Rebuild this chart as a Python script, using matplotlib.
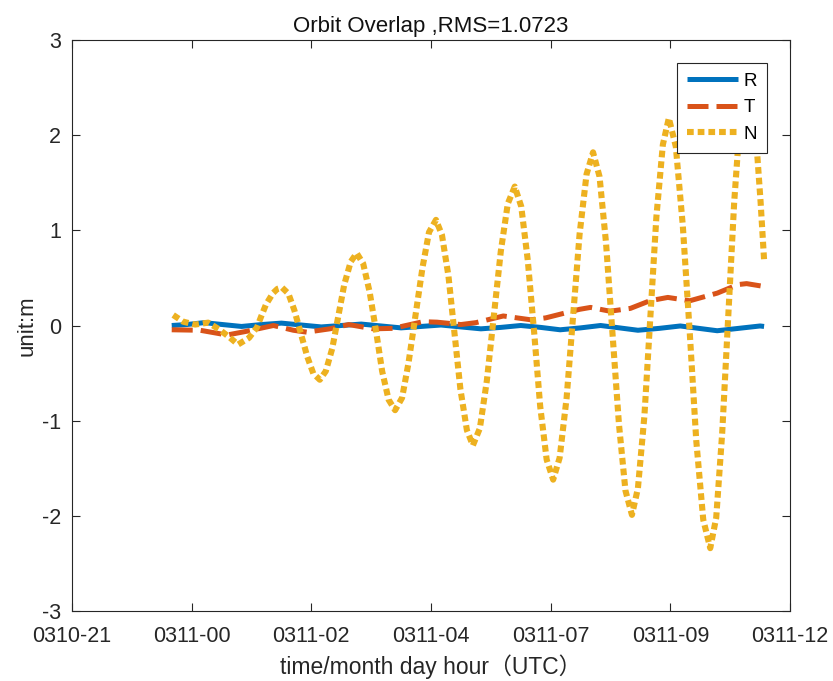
import matplotlib
matplotlib.use("Agg")
import matplotlib.pyplot as plt

plt.rcParams['font.family'] = ['Liberation Sans', 'Noto Sans CJK SC', 'DejaVu Sans']
plt.rcParams['axes.unicode_minus'] = False

# Hours relative to 0311-00 UTC
t_R = [-0.40, -0.10, 0.25, 0.62, 1.00, 1.40, 1.80, 2.20, 2.60, 3.00, 3.40, 3.80,
       4.20, 4.60, 5.00, 5.40, 5.80, 6.20, 6.60, 7.00, 7.39, 7.80, 8.20, 8.58,
       8.95, 9.38, 9.80, 10.17, 10.54, 10.97, 11.40, 11.48]
v_R = [0.00, 0.01, 0.03, 0.01, -0.01, 0.01, 0.025, 0.005, -0.015, 0.00, 0.015, -0.005,
       -0.025, -0.01, 0.005, -0.015, -0.035, -0.02, 0.00, -0.02, -0.045, -0.025, 0.00, -0.025,
       -0.05, -0.03, -0.005, -0.03, -0.055, -0.03, -0.005, -0.01]

t_T = [-0.40, 0.17, 0.71, 1.11, 1.64, 2.04, 2.31, 2.77, 3.15, 3.64, 4.04, 4.64,
       4.92, 5.40, 5.70, 6.25, 6.80, 7.10, 7.78, 8.00, 8.39, 8.80, 9.19, 9.55,
       9.99, 10.54, 10.96, 11.13, 11.48]
v_T = [-0.045, -0.05, -0.10, -0.06, 0.00, -0.05, -0.07, -0.035, 0.01, -0.035, -0.03, 0.04,
       0.035, 0.01, 0.03, 0.10, 0.06, 0.08, 0.17, 0.19, 0.15, 0.18, 0.26, 0.295,
       0.26, 0.34, 0.43, 0.44, 0.41]

t_N = [-0.37, -0.17, 0.07, 0.33, 0.55, 0.75, 0.93, 1.15, 1.31, 1.39, 1.49, 1.63, 1.72, 1.81,
       1.94, 2.06, 2.19, 2.32, 2.44,
       2.57, 2.69, 2.82, 2.94, 3.06, 3.19,
       3.31, 3.44, 3.57, 3.70, 3.82, 3.95,
       4.08, 4.22, 4.35, 4.49, 4.63, 4.76,
       4.90, 5.02, 5.15, 5.27, 5.39, 5.52,
       5.64, 5.78, 5.92, 6.06, 6.20, 6.34,
       6.48, 6.61, 6.74, 6.87, 6.99, 7.12,
       7.25, 7.38, 7.52, 7.65, 7.78, 7.92,
       8.05, 8.18, 8.31, 8.44, 8.57, 8.70,
       8.83, 8.95, 9.08, 9.20, 9.32, 9.45,
       9.57, 9.71, 9.85, 9.99, 10.12, 10.26,
       10.40, 10.52, 10.64, 10.76, 10.88, 11.00,
       11.12, 11.24, 11.34, 11.41, 11.48]
v_N = [0.11, 0.04, 0.01, 0.03, -0.04, -0.12, -0.20, -0.13, -0.02, 0.09, 0.22, 0.34, 0.385, 0.40,
       0.335, 0.16, -0.085, -0.33, -0.505,
       -0.57, -0.48, -0.24, 0.095, 0.43, 0.67,
       0.76, 0.65, 0.35, -0.065, -0.48, -0.78,
       -0.89, -0.76, -0.39, 0.11, 0.61, 0.98,
       1.11, 0.95, 0.52, -0.075, -0.67, -1.10,
       -1.26, -1.08, -0.58, 0.10, 0.78, 1.28,
       1.46, 1.25, 0.69, -0.08, -0.85, -1.41,
       -1.62, -1.39, -0.76, 0.10, 0.96, 1.59,
       1.82, 1.565, 0.87, -0.085, -1.04, -1.735,
       -1.99, -1.71, -0.95, 0.095, 1.14, 1.90,
       2.18, 1.88, 1.05, -0.08, -1.21, -2.04,
       -2.34, -2.02, -1.13, 0.08, 1.29, 2.18,
       2.50, 2.25, 1.82, 1.30, 0.69]

x_ticks = [-2.4, 0.0, 2.4, 4.8, 7.2, 9.6, 12.0]
x_labels = ['0310-21', '0311-00', '0311-02', '0311-04', '0311-07', '0311-09', '0311-12']
y_ticks = [-3, -2, -1, 0, 1, 2, 3]

fig = plt.figure(figsize=(8.33, 6.81), dpi=100)
ax = fig.add_axes([72 / 833, 70 / 681, 718 / 833, 571 / 681])

ax.plot(t_R, v_R, color='#0072BD', lw=3.6, solid_capstyle='butt', label='R')
ax.plot(t_T, v_T, color='#D95319', lw=3.6, dashes=(4.2, 1.6), dash_capstyle='butt', label='T')
ax.plot(t_N, v_N, color='#EDB120', lw=4.4, dashes=(1.1, 0.65), dash_capstyle='butt', label='N')

ax.set_xlim(-2.4, 12.0)
ax.set_ylim(-3, 3)
ax.set_xticks(x_ticks)
ax.set_xticklabels(x_labels)
ax.set_yticks(y_ticks)
ax.tick_params(direction='in', length=6, width=0.8, top=True, right=True,
               labelsize=15.5, colors='#262626')
ax.tick_params(axis='x', pad=11)
ax.tick_params(axis='y', pad=8)
for s in ax.spines.values():
    s.set_linewidth(0.8)
    s.set_color('#262626')

ax.set_title('Orbit Overlap ,RMS=1.0723', fontsize=16, color='#111111', pad=6)
ax.set_xlabel('time/month day hour（UTC）', fontsize=16.5, color='#262626', labelpad=5)
ax.set_ylabel('unit:m', fontsize=16, color='#262626', labelpad=3)

leg = ax.legend(loc='upper right', fontsize=13.5, handlelength=2.7, handletextpad=0.3,
                borderpad=0.55, labelspacing=0.5, fancybox=False, framealpha=1,
                borderaxespad=1.2, edgecolor='#262626')
leg.get_frame().set_linewidth(0.8)

fig.savefig('out.png', dpi=100, facecolor='white')
